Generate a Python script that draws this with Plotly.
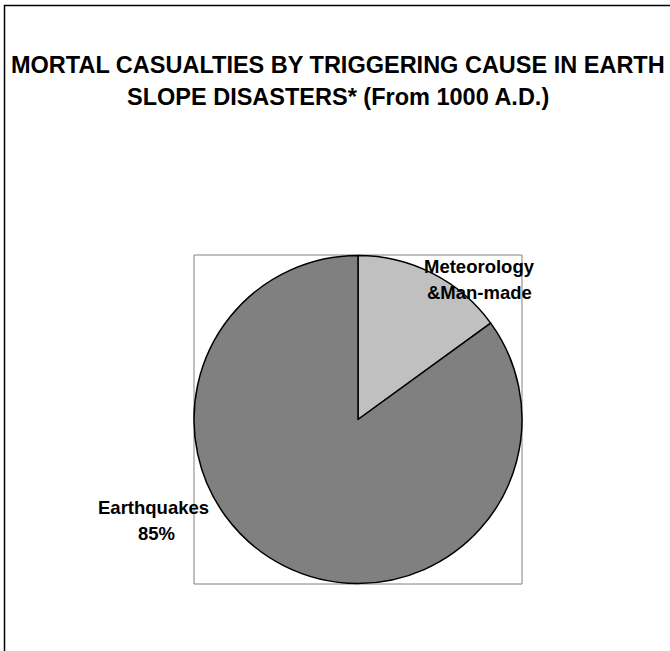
import plotly.graph_objects as go

W, H = 670, 651

categories = ["Meteorology &Man-made", "Earthquakes"]
values = [15, 85]
colors = ["#C0C0C0", "#808080"]
title_lines = ["MORTAL CASUALTIES BY TRIGGERING CAUSE IN EARTH",
               "SLOPE DISASTERS* (From 1000 A.D.)"]
label_met = ["Meteorology", "&Man-made"]
label_eq = ["Earthquakes", "85%"]

def px(x):
    return x / W

def py(y):
    return 1 - y / H

FONT = "Liberation Sans, Arial, sans-serif"

fig = go.Figure(go.Pie(
    labels=categories,
    values=values,
    sort=False,
    direction="clockwise",
    rotation=0,
    marker=dict(colors=colors, line=dict(color="black", width=1.5)),
    textinfo="none",
    hoverinfo="label+percent",
    showlegend=False,
    domain=dict(x=[px(194), px(522)], y=[py(584), py(255)]),
))

shapes = [
    # outer chart border (extends beyond the visible window)
    dict(type="rect", xref="paper", yref="paper",
         x0=px(4.5), x1=px(740), y0=py(740), y1=py(5.5),
         line=dict(color="black", width=1.5), layer="above"),
    # plot area square
    dict(type="rect", xref="paper", yref="paper",
         x0=px(194), x1=px(522), y0=py(584), y1=py(255),
         line=dict(color="#808080", width=1), layer="below"),
]

annotations = []
for txt, yc in zip(title_lines, [65, 97]):
    annotations.append(dict(text="<b>%s</b>" % txt, x=px(338), y=py(yc),
                            xref="paper", yref="paper", showarrow=False,
                            xanchor="center", yanchor="middle",
                            font=dict(family=FONT, size=23.5, color="black")))
for txt, yc in zip(label_met, [266, 292]):
    annotations.append(dict(text="<b>%s</b>" % txt, x=px(479), y=py(yc),
                            xref="paper", yref="paper", showarrow=False,
                            xanchor="center", yanchor="middle",
                            font=dict(family=FONT, size=18.5, color="black")))
for txt, xc, yc in zip(label_eq, [153.5, 156], [507, 533]):
    annotations.append(dict(text="<b>%s</b>" % txt, x=px(xc), y=py(yc),
                            xref="paper", yref="paper", showarrow=False,
                            xanchor="center", yanchor="middle",
                            font=dict(family=FONT, size=18.5, color="black")))

fig.update_layout(
    width=W, height=H,
    margin=dict(l=0, r=0, t=0, b=0),
    paper_bgcolor="white",
    plot_bgcolor="white",
    shapes=shapes,
    annotations=annotations,
)

fig.write_html("out.html",
               config={"displayModeBar": False},
               post_script="document.body.style.margin='0';document.body.style.overflow='hidden';")
